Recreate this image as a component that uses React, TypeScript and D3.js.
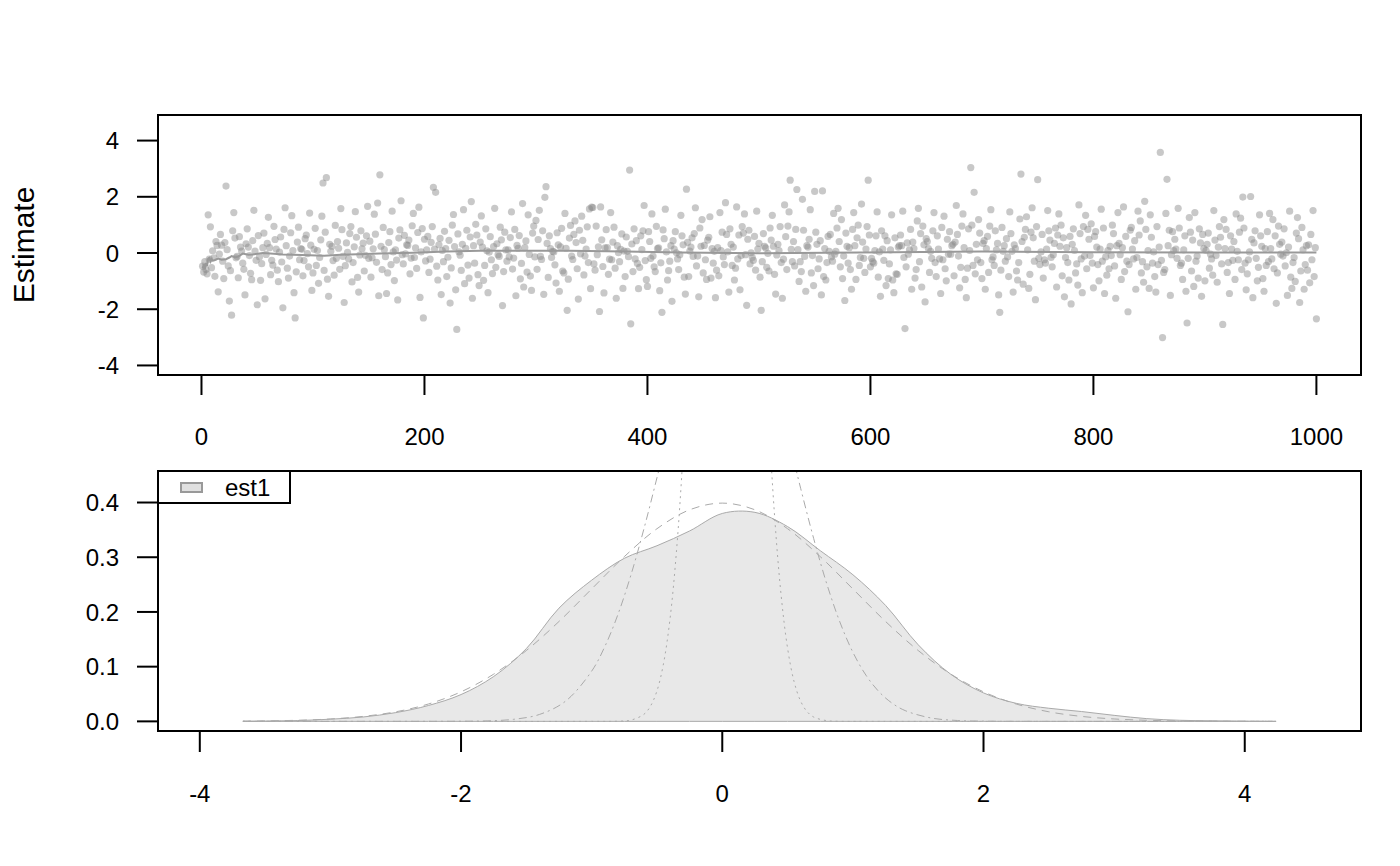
import React from "react";
import { scaleLinear, line, area, curveCatmullRom } from "d3";

// draws per sample (index 1..n)
const estimates: number[] = [
  -0.47,-0.68,-0.31,-0.59,-0.74,1.36,-0.22,0.93,-0.52,0.08,-0.17,-0.83,0.41,0.27,-1.38,-0.04,0.66,0.28,-0.29,-0.91,0.37,2.38,0.12,-0.46,-1.71,-0.63,-2.21,0.79,1.44,0.53,-0.17,-0.12,-0.88,0.58,0.21,0.07,-0.36,-0.58,-1.49,0.33,0.86,0.21,-0.09,-0.72,-0.95,0.44,1.52,0.07,-0.26,-1.84,
  0.62,-0.14,-0.97,-0.38,0.19,0.71,-1.63,-0.05,0.34,1.27,0.19,-0.77,-0.26,-0.43,0.95,0.48,0.14,-0.61,-1.02,0.03,0.57,-0.32,-1.95,0.84,1.61,0.26,-0.54,-0.89,-0.11,0.72,1.33,0.09,-1.41,-2.31,-0.67,0.39,0.92,-0.24,0.16,0.13,-0.81,-0.27,0.51,0.64,-0.02,-0.49,1.42,0.28,-1.33,-0.71,
  0.13,0.88,-0.44,0.09,-1.08,-0.16,0.47,1.31,2.49,-0.62,0.74,2.68,-0.93,-1.54,0.31,0.06,0.24,-0.27,-0.79,0.98,-0.19,0.41,0.17,-0.58,1.58,0.83,-0.12,-1.76,-0.45,0.36,0.02,-0.21,0.69,0.94,-1.03,-0.34,0.22,1.47,0.56,-0.87,-1.39,-0.07,0.79,0.15,0.35,-0.64,-0.08,0.61,1.66,-0.19,
  0.42,-0.86,-0.17,0.15,1.38,0.67,-0.33,1.78,-1.52,2.78,0.24,-0.59,0.91,0.12,-0.13,-1.44,-0.71,0.37,0.76,-0.41,1.49,0.04,-0.98,0.11,-0.25,-1.67,0.53,0.82,1.86,-0.06,-0.39,0.63,-0.03,0.29,0.27,0.46,-0.74,-0.18,0.97,1.41,-0.16,0.18,-0.55,0.73,1.63,-1.58,0.04,0.87,-2.31,0.49,
  -0.28,0.11,0.59,-0.69,-0.22,0.38,0.94,2.34,0.14,2.16,-0.47,-0.96,0.29,0.52,-1.48,0.09,-0.31,0.77,0.16,-0.84,-0.15,0.45,-1.78,-0.53,0.99,1.37,0.23,-1.31,-2.72,0.68,0.04,-0.08,-0.62,0.31,1.54,-1.09,0.17,0.81,-0.43,-0.89,0.57,1.83,-1.61,0.26,-0.36,1.02,0.64,-0.77,-1.16,0.39,
  1.32,0.21,-0.97,-0.44,0.86,0.08,-1.41,0.03,0.58,-0.24,-0.73,0.23,1.59,-0.51,0.33,-0.06,-0.12,0.92,0.47,-1.87,-0.66,0.74,0.11,-0.29,0.11,-0.14,0.55,1.46,-0.57,-0.18,0.84,-1.52,0.27,0.17,0.62,-0.92,-0.37,1.76,-1.21,0.19,0.43,-0.68,1.36,-0.05,-0.82,-1.33,0.71,0.96,-0.14,1.16,
  -0.58,0.48,1.52,-0.12,-0.23,0.79,-1.47,1.98,2.36,0.34,-0.87,0.61,0.16,-0.16,0.06,0.04,-0.42,-1.07,0.72,0.29,-1.36,0.22,0.88,-0.64,-0.71,1.41,0.17,-2.04,-0.93,0.53,0.98,-0.11,-0.23,0.66,1.14,0.37,-0.56,-1.64,0.81,-0.03,1.31,0.45,-0.78,-0.11,0.14,0.93,-0.34,1.57,-1.27,1.63,
  1.62,-0.39,-0.61,0.96,-0.06,0.22,-2.08,1.64,0.47,-0.48,-1.42,0.18,0.83,0.19,-0.76,-0.22,1.44,-0.24,0.39,0.92,-0.54,-1.61,0.26,0.01,-0.31,0.13,0.68,-1.26,0.07,-0.84,0.57,0.06,-0.13,2.95,-2.52,0.32,-0.66,0.86,-0.21,0.44,-0.37,-1.27,-0.51,0.61,0.12,0.79,1.69,-0.27,-0.95,-1.19,
  0.76,0.41,-0.19,1.39,-0.11,-0.49,-0.66,0.95,0.16,0.18,-1.34,-0.35,-2.11,0.82,0.51,1.56,0.04,-0.96,-0.63,-0.29,0.26,-1.72,0.44,0.14,0.76,0.01,-0.21,-0.59,-0.06,1.34,0.61,0.29,-0.86,-1.46,2.27,0.38,-0.84,0.07,0.21,0.54,-0.12,0.69,1.61,-0.46,-0.11,-1.56,0.89,0.24,1.19,-0.71,
  0.27,-0.24,-0.94,0.46,0.56,1.29,-0.89,0.16,-0.36,0.06,-1.59,-0.61,0.19,-0.81,1.44,0.09,0.74,-0.14,-0.41,1.79,0.66,0.04,-1.39,0.86,0.31,-0.44,0.21,-0.96,-0.54,1.64,-0.21,0.64,-1.31,-0.09,0.94,0.71,1.39,-0.06,-1.86,0.49,0.81,-0.39,0.01,-0.16,-0.26,0.59,-0.61,1.49,0.14,0.34,
  -0.86,-2.04,-0.31,0.69,0.24,0.18,-0.51,-0.01,-0.64,0.89,0.46,1.34,0.24,-0.76,-1.46,-0.07,0.31,0.09,0.94,-0.34,-1.61,-0.22,1.71,0.58,-0.59,0.96,1.46,2.59,0.13,-0.31,0.41,-0.46,0.84,2.26,0.12,-1.01,-0.31,-0.66,1.91,0.81,-0.12,-1.36,0.26,0.21,0.49,1.54,-0.71,-0.09,-1.16,2.19,
  0.74,0.31,-0.56,-0.21,0.44,-1.49,2.21,-0.84,0.16,-0.96,-0.34,0.59,0.06,0.66,-0.14,-0.29,1.41,-0.04,0.06,0.89,1.59,0.41,-0.49,1.19,-0.91,-0.11,-1.69,0.71,0.24,-0.36,0.19,-0.59,-1.29,0.84,1.44,0.26,-0.94,0.54,0.99,-0.44,-0.16,1.74,0.39,-0.19,-0.69,0.14,0.94,2.59,0.64,-0.49,
  -0.19,-0.31,-0.36,0.09,0.61,1.46,-0.86,0.04,-1.54,0.79,0.14,-0.26,0.61,-1.16,0.44,-0.91,-0.39,0.11,1.36,-0.96,-1.41,0.54,-0.74,-0.76,0.21,0.26,0.64,0.26,1.49,-0.16,-2.69,-0.49,0.36,-0.04,0.11,0.84,-1.29,0.39,0.16,-0.89,-0.59,1.14,1.59,-0.31,0.69,-1.21,0.96,0.29,-1.74,0.51,
  0.41,0.16,-0.69,0.06,-0.19,0.79,1.44,-0.34,-0.84,0.61,0.14,-0.21,-1.44,0.91,-0.24,1.31,-0.56,-0.99,0.49,-0.04,0.76,-0.04,0.26,0.31,-0.81,0.39,1.69,0.66,-0.11,-1.24,-0.51,0.96,1.39,0.19,-0.94,-1.59,-0.54,0.86,0.09,3.04,0.99,-0.44,2.16,-0.74,0.31,-0.24,1.19,0.71,-0.34,-0.91,
  0.34,0.44,-1.29,0.16,0.59,-0.69,0.96,1.54,-0.24,-0.14,-0.44,0.79,0.11,0.34,-1.49,-2.11,-0.61,0.91,0.06,0.26,-0.29,0.51,-0.14,-0.84,1.46,0.69,0.06,-1.39,0.29,0.16,-0.64,-0.96,-0.34,1.21,2.81,0.41,-1.11,0.56,0.84,1.29,0.11,-1.26,-0.76,0.74,1.61,0.54,-0.29,-1.66,0.94,2.61,
  -0.19,-0.41,0.04,0.66,-0.89,-0.24,-0.36,0.14,1.51,0.79,0.46,-0.16,-0.49,-0.06,0.34,0.89,-1.21,0.64,1.39,0.24,0.99,-0.81,0.54,-1.56,-0.16,0.19,-0.34,-0.96,0.59,-1.81,0.31,0.86,0.09,-0.71,-0.39,-1.14,1.71,0.69,-0.21,-1.41,0.94,-0.11,1.34,-0.56,0.84,0.49,-0.09,1.04,-0.36,-1.24,
  0.59,0.76,0.21,-0.41,-0.99,0.14,1.56,-0.29,0.89,-1.44,-0.14,-0.79,0.09,-0.56,0.24,-0.09,0.99,0.69,-0.46,-1.61,0.26,1.44,0.34,-0.06,-0.94,0.19,1.64,-0.66,0.59,-0.29,-2.09,-0.41,0.81,0.91,0.14,-0.21,0.44,-1.29,-0.16,1.49,0.64,1.14,-0.71,-0.31,-1.04,1.84,0.84,-0.49,0.09,-1.26,
  1.36,0.56,-0.36,0.04,-0.84,-1.39,0.94,-0.41,0.21,3.58,-0.26,-3.01,-0.69,-0.59,1.41,2.62,0.26,0.81,-1.51,-0.06,0.76,0.09,0.49,0.14,-0.19,1.59,0.89,-0.44,-0.36,-0.94,0.11,0.61,-1.36,-2.49,-0.19,1.26,0.74,-0.64,0.46,-1.19,1.44,-0.29,-0.11,-0.89,0.86,0.36,-1.54,0.66,0.16,-0.99,
  0.09,0.31,0.71,-0.54,-0.04,-0.21,-0.79,1.51,0.46,-0.09,-1.04,0.21,0.94,0.56,-0.39,-2.54,1.19,0.16,0.84,-0.69,-0.34,-1.44,0.61,0.14,-0.26,0.41,-0.94,1.39,0.06,-0.24,0.74,1.24,-0.59,1.99,0.89,-0.36,-1.31,-0.74,-0.24,0.04,2.01,0.49,-1.59,0.36,0.79,-0.19,-0.99,-0.51,1.36,0.61,
  0.24,-0.91,-1.36,0.16,-0.44,0.76,-0.31,1.41,0.16,-0.21,1.19,-0.56,0.61,-1.79,-0.71,0.96,0.31,-0.04,0.39,-0.11,0.86,-0.46,0.01,-1.51,0.21,1.49,-0.86,-1.26,-0.34,-0.16,-1.01,0.71,1.26,0.51,-1.76,-0.64,0.91,0.11,-1.29,-0.41,0.26,-0.61,0.29,-1.06,0.66,-0.24,1.51,-0.84,0.19,-2.34,
];

// running mean of the draws
const runIdx = [1,2,3,4,5,6,7,8,9,10,12,15,18,22,25,27,30,33,37,42,46,55,65,73,90,110,125,140,160,190,220,250,280,330,380,430,500,560,620,700,800,900,1000];
const runVal = [-0.55,-0.40,-0.58,-0.35,-0.47,-0.20,-0.17,-0.30,-0.22,-0.27,-0.25,-0.20,-0.24,-0.22,-0.16,-0.11,-0.15,-0.13,-0.02,-0.06,-0.05,0.0,-0.03,-0.05,-0.07,-0.10,-0.06,-0.04,-0.02,0.01,0.05,0.08,0.08,0.08,0.05,0.02,-0.01,0.01,0.03,0.05,0.03,0.02,0.02];

// density estimate of est1
const densX = [-3.67,-3.5,-3.25,-3,-2.75,-2.5,-2.25,-2,-1.75,-1.5,-1.25,-1,-0.75,-0.5,-0.25,0,0.25,0.5,0.75,1,1.25,1.5,1.75,2,2.25,2.5,2.75,3,3.25,3.5,3.75,4,4.24];
const densY = [0,0.0005,0.0015,0.004,0.008,0.016,0.029,0.049,0.082,0.133,0.207,0.258,0.298,0.321,0.348,0.380,0.382,0.356,0.312,0.268,0.212,0.140,0.086,0.052,0.033,0.024,0.018,0.011,0.005,0.002,0.001,0.0003,0];

// reference curves: dashed (wide, on densX), dash-dot (medium), dotted (narrow)
const dashY = [0.0005,0.0009,0.0020,0.0044,0.0091,0.0175,0.0317,0.0540,0.0863,0.1295,0.1826,0.2420,0.3011,0.3521,0.3867,0.3989,0.3867,0.3521,0.3011,0.2420,0.1826,0.1295,0.0863,0.0540,0.0317,0.0175,0.0091,0.0044,0.0020,0.0009,0.0004,0.0001,0];
const dashDotX = [-3.67,-2.4,-2,-1.8,-1.6,-1.4,-1.2,-1,-0.9,-0.8,-0.7,-0.6,-0.5,-0.4,-0.3,-0.2,-0.1,0,0.1,0.2,0.3,0.4,0.5,0.6,0.7,0.8,0.9,1,1.1,1.2,1.3,1.4,1.6,1.8,2,2.4,4.24];
const dashDotY = [0,0,0.0002,0.0009,0.0037,0.0126,0.0369,0.0918,0.1363,0.1946,0.2669,0.3517,0.4453,0.5418,0.6334,0.711,0.767,0.7955,0.792,0.758,0.697,0.616,0.523,0.426,0.334,0.2514,0.1818,0.1263,0.0844,0.0541,0.0333,0.0197,0.0061,0.0016,0.0004,0,0];
const dotX = [-3.67,-1,-0.8,-0.7,-0.6,-0.55,-0.5,-0.45,-0.4,-0.35,-0.3,-0.25,-0.2,-0.1,0,0.1,0.2,0.25,0.3,0.35,0.4,0.45,0.5,0.55,0.6,0.65,0.7,0.8,0.9,1.1,4.24];
const dotY = [0,0,0.0003,0.0023,0.0129,0.0277,0.0557,0.1055,0.1873,0.3128,0.4906,0.723,1.0,1.6,1.97,1.8,1.3,1.12,0.829,0.577,0.377,0.2318,0.1337,0.0724,0.0369,0.0176,0.0079,0.0013,0.0001,0,0];

const topXTicks = [0, 200, 400, 600, 800, 1000];
const topYTicks = [-4, -2, 0, 2, 4];
const botXTicks = [-4, -2, 0, 2, 4];
const botYTicks = [0, 0.1, 0.2, 0.3, 0.4];
const legendLabel = "est1";

const font = "'Liberation Sans', Arial, sans-serif";
const L = 158;
const R = 1361;

export default function App() {
  const xTop = scaleLinear().domain([-39, 1040]).range([L, R]);
  const yTop = scaleLinear().domain([-4.34, 4.91]).range([375, 115]);
  const xBot = scaleLinear().domain([-4.32, 4.89]).range([L, R]);
  const yBot = scaleLinear().domain([-0.0176, 0.4576]).range([731, 471]);

  const runLine = line<number>()
    .x((_, i) => xTop(runIdx[i]))
    .y((d) => yTop(d))(runVal) as string;

  const curve = (xs: number[], ys: number[]) =>
    line<number>()
      .x((_, i) => xBot(xs[i]))
      .y((d) => yBot(d))
      .curve(curveCatmullRom)(ys) as string;

  const densArea = area<number>()
    .x((_, i) => xBot(densX[i]))
    .y0(yBot(0))
    .y1((d) => yBot(d))
    .curve(curveCatmullRom)(densY) as string;

  return (
    <svg
      width={1400}
      height={866}
      style={{ position: "fixed", left: 0, top: 0, background: "#fff" }}
      fontFamily={font}
    >
      <defs>
        <clipPath id="botclip">
          <rect x={L} y={471} width={R - L} height={260} />
        </clipPath>
      </defs>

      {/* top panel: draws */}
      <g>
        {estimates.map((v, i) => (
          <circle key={i} cx={xTop(i + 1)} cy={yTop(v)} r={3.6} fill="#858585" fillOpacity={0.45} />
        ))}
        <path d={runLine} fill="none" stroke="#999" strokeWidth={2} />
        <rect x={L} y={115} width={R - L} height={260} fill="none" stroke="#000" strokeWidth={2} />
        {topYTicks.map((t) => (
          <g key={t}>
            <line x1={137} x2={L} y1={yTop(t)} y2={yTop(t)} stroke="#000" strokeWidth={2} />
            <text x={119} y={yTop(t)} dy="0.36em" textAnchor="end" fontSize={24}>
              {t}
            </text>
          </g>
        ))}
        {topXTicks.map((t) => (
          <g key={t}>
            <line x1={xTop(t)} x2={xTop(t)} y1={375} y2={395} stroke="#000" strokeWidth={2} />
            <text x={xTop(t)} y={445} textAnchor="middle" fontSize={24}>
              {t}
            </text>
          </g>
        ))}
        <text transform="translate(34,245) rotate(-90)" textAnchor="middle" fontSize={30}>
          Estimate
        </text>
      </g>

      {/* bottom panel: density */}
      <g>
        <g clipPath="url(#botclip)">
          <path d={densArea} fill="#e8e8e8" stroke="#aaa" strokeWidth={1} />
          <path d={curve(densX, dashY)} fill="none" stroke="#aaa" strokeWidth={1} strokeDasharray="8,6" />
          <path d={curve(dashDotX, dashDotY)} fill="none" stroke="#aaa" strokeWidth={1} strokeDasharray="2,4,8,4" />
          <path d={curve(dotX, dotY)} fill="none" stroke="#aaa" strokeWidth={1} strokeDasharray="2,4" />
        </g>
        <rect x={L} y={471} width={R - L} height={260} fill="none" stroke="#000" strokeWidth={2} />
        {botYTicks.map((t) => (
          <g key={t}>
            <line x1={137} x2={L} y1={yBot(t)} y2={yBot(t)} stroke="#000" strokeWidth={2} />
            <text x={119} y={yBot(t)} dy="0.36em" textAnchor="end" fontSize={24}>
              {t.toFixed(1)}
            </text>
          </g>
        ))}
        {botXTicks.map((t) => (
          <g key={t}>
            <line x1={xBot(t)} x2={xBot(t)} y1={731} y2={752} stroke="#000" strokeWidth={2} />
            <text x={xBot(t)} y={802} textAnchor="middle" fontSize={24}>
              {t}
            </text>
          </g>
        ))}
        <rect x={L} y={471} width={132} height={32} fill="#fff" stroke="#000" strokeWidth={2} />
        <rect x={181} y={483} width={21} height={9} fill="#e0e0e0" stroke="#999" strokeWidth={2} />
        <text x={225} y={496} fontSize={24}>
          {legendLabel}
        </text>
      </g>
    </svg>
  );
}
